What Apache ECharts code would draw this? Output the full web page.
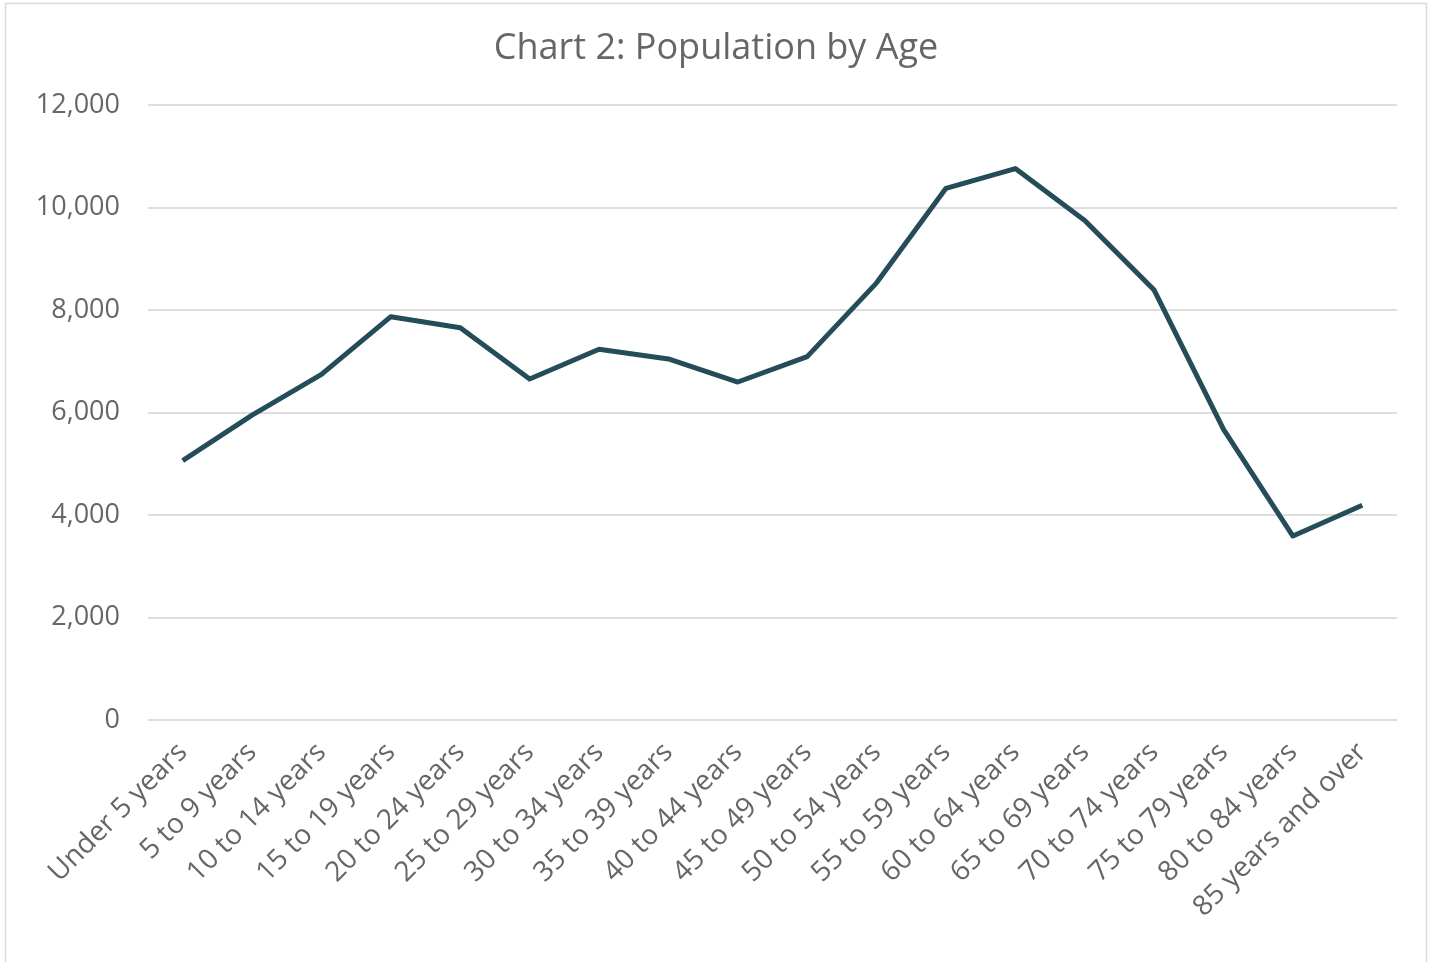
<!DOCTYPE html>
<html>
<head>
<meta charset="utf-8">
<script src="https://cdn.jsdelivr.net/npm/echarts@6/dist/echarts.min.js"></script>
<style>
  html, body { margin: 0; padding: 0; background: #fff; }
  #chart { width: 1432px; height: 962px; }
</style>
</head>
<body>
<div id="chart"></div>
<script>
const ageGroups = [
  'Under 5 years', '5 to 9 years', '10 to 14 years', '15 to 19 years',
  '20 to 24 years', '25 to 29 years', '30 to 34 years', '35 to 39 years',
  '40 to 44 years', '45 to 49 years', '50 to 54 years', '55 to 59 years',
  '60 to 64 years', '65 to 69 years', '70 to 74 years', '75 to 79 years',
  '80 to 84 years', '85 years and over'
]
const population = [
  5060, 5950, 6745, 7870, 7655, 6654, 7233, 7044, 6595,
  7090, 8530, 10375, 10760, 9745, 8390, 5670, 3590, 4190
]

const chart = echarts.init(document.getElementById('chart'))
const textColor = '#666666'
const fontFamily = '"Open Sans", Lato, sans-serif'

chart.setOption({
  backgroundColor: '#fff',
  animation: false,
  textStyle: { fontFamily },
  graphic: [
    {
      type: 'rect',
      shape: { x: 5.5, y: 3.5, width: 1421, height: 990 },
      style: { fill: 'none', stroke: '#d9d9d9', lineWidth: 1.5 },
      silent: true
    }
  ],
  title: {
    text: 'Chart 2: Population by Age',
    left: 'center',
    top: 26,
    textStyle: {
      color: textColor,
      fontSize: 36,
      fontWeight: 'normal',
      fontFamily
    }
  },
  grid: {
    left: 148,
    right: 35,
    top: 105,
    bottom: 242,
    containLabel: false
  },
  xAxis: {
    type: 'category',
    data: ageGroups,
    boundaryGap: true,
    axisLine: { show: false },
    axisTick: { show: false },
    axisLabel: {
      rotate: 45,
      interval: 0,
      margin: 28,
      color: textColor,
      fontSize: 28,
      fontFamily
    }
  },
  yAxis: {
    type: 'value',
    min: 0,
    max: 12000,
    interval: 2000,
    axisLine: { show: false },
    axisTick: { show: false },
    axisLabel: {
      margin: 28,
      color: textColor,
      fontSize: 27,
      fontFamily,
      formatter: (value) => value.toLocaleString('en-US')
    },
    splitLine: {
      lineStyle: { color: '#dedede', width: 2 }
    }
  },
  series: [
    {
      name: 'Population',
      type: 'line',
      data: population,
      symbol: 'none',
      lineStyle: { color: '#244c59', width: 5, join: 'round' }
    }
  ]
})
</script>
</body>
</html>
